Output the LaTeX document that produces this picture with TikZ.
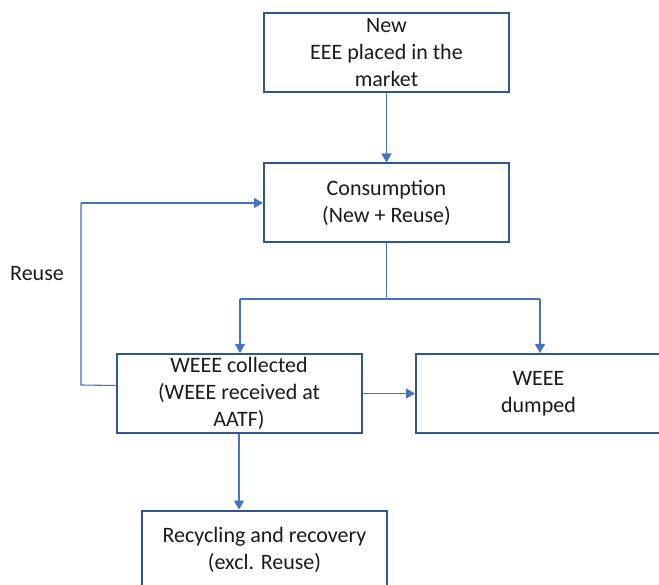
\documentclass[tikz,border=0pt]{standalone}
\usepackage{fontspec}
\setmainfont{Carlito}
\usetikzlibrary{arrows.meta}
\definecolor{boxblue}{HTML}{2F5597}
\definecolor{linkblue}{HTML}{4472C4}
\definecolor{txt}{HTML}{1A1A1A}
\tikzset{
  box/.style={draw=boxblue, line width=2pt, fill=white, minimum width=245pt, minimum height=79pt,
    inner sep=0pt, align=center, text=txt, font=\fontsize{22pt}{26.7pt}\selectfont,
    execute at begin node={\rule{0pt}{22pt}}},
  conn/.style={draw=linkblue, line width=1.1pt, -{Triangle[width=10pt,length=9pt]}},
  plain/.style={draw=linkblue, line width=1.1pt},
  lbl/.style={text=txt, font=\fontsize{22pt}{26.7pt}\selectfont, inner sep=0pt}
}
\begin{document}
\begin{tikzpicture}[x=1pt,y=-1pt]
\path[use as bounding box, clip] (0,0) rectangle (659,585);
\node[box] (b1) at (386.5,52.5) {New\\EEE placed in the\\market};
\node[box] (b2) at (386.5,203) {Consumption\\(New + Reuse)};
\node[box] (b3) at (239,393.5) {WEEE collected\\(WEEE received at\\AATF)};
\node[box] (b4) at (538.5,393.5) {WEEE\\dumped};
\node[box] (b5) at (264.5,550) {Recycling and recovery\\(excl. Reuse)};
\node[lbl] (reuse) at (37,274) {Reuse};
\coordinate (sp) at (386.5,299);
\coordinate (spl) at (240,299);
\coordinate (spr) at (540,299);
\coordinate (rb) at (81,385);
\coordinate (rt) at (81,203);
\draw[conn] (b1) -- (b2);
\draw[plain] (b2.south) -- (sp);
\draw[plain] (spl) -- (spr);
\draw[conn] (spl) -- (spl |- b3.north);
\draw[conn] (spr) -- (spr |- b4.north);
\draw[plain] ([yshift=8pt]b3.west) -- (rb) -- (rt);
\draw[conn] (rt) -- (b2.west);
\draw[conn] (b3.east) -- (b4.west);
\draw[conn] (b3.south) -- (b3.south |- b5.north);
\end{tikzpicture}
\end{document}
